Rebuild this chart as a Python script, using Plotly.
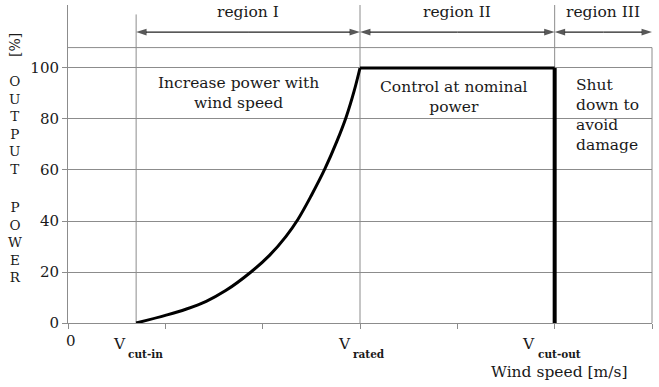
import plotly.graph_objects as go

# ---- data ----
wind_curve = [0.7, 1.0, 1.21, 1.42, 1.62, 1.88, 2.07, 2.24, 2.36, 2.5, 2.64, 2.76, 2.86, 2.94, 3.0]
power_curve = [0, 3, 5.4, 8.5, 12.7, 20, 26.5, 34, 40.5, 50, 60.5, 71, 81, 91, 100]
wind_nominal = [3.0, 5.0]
power_nominal = [100, 100]
wind_cutout = [5.0, 5.0]
power_cutout = [100, 0]

v_cut_in = 0.7
v_rated = 3.0
v_cut_out = 5.0
x_max = 6.0

y_ticks = [0, 20, 40, 60, 80, 100]
x_ticks = [0, 1, 2, 3, 4, 5, 6]

region_labels = ["region I", "region II", "region III"]
region_texts = ["Increase power with<br>wind speed",
                "Control at nominal<br>power",
                "Shut<br>down to<br>avoid<br>damage"]
speed_subscripts = ["cut-in", "rated", "cut-out"]

FONT = "DejaVu Serif"
GRID = "#8c8c8c"
TXT = "#1a1a1a"
top_box = 108
y_top = 124.7
arrow_y = 114.1
FS = 15.5

fig = go.Figure()
fig.add_trace(go.Scatter(x=wind_curve, y=power_curve, mode="lines",
                         line=dict(color="black", width=3, shape="spline", smoothing=1.0),
                         showlegend=False, hoverinfo="skip"))
fig.add_trace(go.Scatter(x=wind_nominal, y=power_nominal, mode="lines",
                         line=dict(color="black", width=3), showlegend=False, hoverinfo="skip"))
fig.add_trace(go.Scatter(x=wind_cutout, y=power_cutout, mode="lines",
                         line=dict(color="black", width=4), showlegend=False, hoverinfo="skip"))

# double-headed region arrows
bounds = [(v_cut_in, v_rated), (v_rated, v_cut_out), (v_cut_out, x_max)]
for a, b in bounds:
    mid = (a + b) / 2
    for end in (a, b):
        fig.add_trace(go.Scatter(x=[mid, end], y=[arrow_y, arrow_y], mode="lines+markers",
                                 line=dict(color="#222222", width=1.2),
                                 marker=dict(symbol="arrow", angleref="previous",
                                             size=[0, 11], color="#111111",
                                             line=dict(width=0)),
                                 showlegend=False, hoverinfo="skip", cliponaxis=False))

shapes = [
    dict(type="line", xref="x", yref="y", x0=0, x1=x_max, y0=top_box, y1=top_box,
         line=dict(color=GRID, width=1), layer="below"),
    dict(type="line", xref="x", yref="y", x0=v_cut_in, x1=v_cut_in, y0=0, y1=121,
         line=dict(color=GRID, width=1), layer="below"),
    dict(type="line", xref="x", yref="y", x0=v_rated, x1=v_rated, y0=0, y1=y_top,
         line=dict(color=GRID, width=1), layer="below"),
    dict(type="line", xref="x", yref="y", x0=v_cut_out, x1=v_cut_out, y0=0, y1=y_top,
         line=dict(color=GRID, width=1), layer="below"),
    dict(type="line", xref="paper", yref="y", x0=1, x1=1, y0=0, y1=top_box,
         line=dict(color=GRID, width=1), layer="below"),
]

annotations = []
for (a, b), lab in zip(bounds, region_labels):
    annotations.append(dict(x=(a + b) / 2, y=122, xref="x", yref="y", text=lab,
                            showarrow=False, font=dict(family=FONT, size=FS, color=TXT)))

annotations.append(dict(x=1.75, y=90.2, xref="x", yref="y", text=region_texts[0],
                        showarrow=False, font=dict(family=FONT, size=FS, color=TXT)))
annotations.append(dict(x=3.97, y=88.6, xref="x", yref="y", text=region_texts[1],
                        showarrow=False, font=dict(family=FONT, size=FS, color=TXT)))
annotations.append(dict(x=5.2, y=81.6, xref="x", yref="y", text=region_texts[2],
                        xanchor="left", align="left",
                        showarrow=False, font=dict(family=FONT, size=FS, color=TXT)))

# x-axis labels below the axis
annotations.append(dict(x=0.03, y=-0.057, xref="x", yref="paper", text="0",
                        xanchor="center", yanchor="middle",
                        showarrow=False, font=dict(family=FONT, size=15, color=TXT)))
v_centers = [0.534, 2.836, 4.736]
sub_lefts = [0.596, 2.908, 4.808]
for vx, sx, sub in zip(v_centers, sub_lefts, speed_subscripts):
    annotations.append(dict(x=vx, y=-0.066, xref="x", yref="paper", text="V",
                            xanchor="center", yanchor="middle",
                            showarrow=False, font=dict(family=FONT, size=FS, color=TXT)))
    annotations.append(dict(x=sx, y=-0.096, xref="x", yref="paper", text="<b>" + sub + "</b>",
                            xanchor="left", yanchor="middle",
                            showarrow=False, font=dict(family=FONT, size=10.5, color=TXT)))
annotations.append(dict(x=5.045, y=-0.154, xref="x", yref="paper", text="Wind speed [m/s]",
                        xanchor="center", yanchor="middle",
                        showarrow=False, font=dict(family=FONT, size=FS, color=TXT)))

# stacked y-axis title
annotations.append(dict(x=-0.091, y=109, xref="paper", yref="y", text="[%]", textangle=-90,
                        xanchor="center", yanchor="middle",
                        showarrow=False, font=dict(family=FONT, size=14, color=TXT)))
annotations.append(dict(x=-0.091, y=77.6, xref="paper", yref="y",
                        text="O<br>U<br>T<br>P<br>U<br>T", xanchor="center", yanchor="middle",
                        showarrow=False, font=dict(family=FONT, size=13.5, color=TXT)))
annotations.append(dict(x=-0.091, y=31.8, xref="paper", yref="y",
                        text="P<br>O<br>W<br>E<br>R", xanchor="center", yanchor="middle",
                        showarrow=False, font=dict(family=FONT, size=13.5, color=TXT)))

fig.update_layout(
    width=659, height=387,
    margin=dict(l=68, r=7, t=5, b=64),
    paper_bgcolor="white", plot_bgcolor="white",
    shapes=shapes, annotations=annotations,
    font=dict(family=FONT, size=FS, color=TXT),
    showlegend=False,
)
fig.update_xaxes(range=[0, x_max], tickvals=x_ticks, showticklabels=False,
                 ticks="outside", ticklen=5, tickcolor=GRID, showgrid=False,
                 zeroline=False, showline=True, linecolor=GRID, linewidth=1)
fig.update_yaxes(range=[0, y_top], tickvals=y_ticks, ticks="outside", ticklen=5,
                 tickcolor=GRID, showgrid=True, gridcolor=GRID, gridwidth=1,
                 zeroline=False, showline=True, linecolor=GRID, linewidth=1,
                 tickfont=dict(family=FONT, size=15, color=TXT))

fig.write_html("out.html")
